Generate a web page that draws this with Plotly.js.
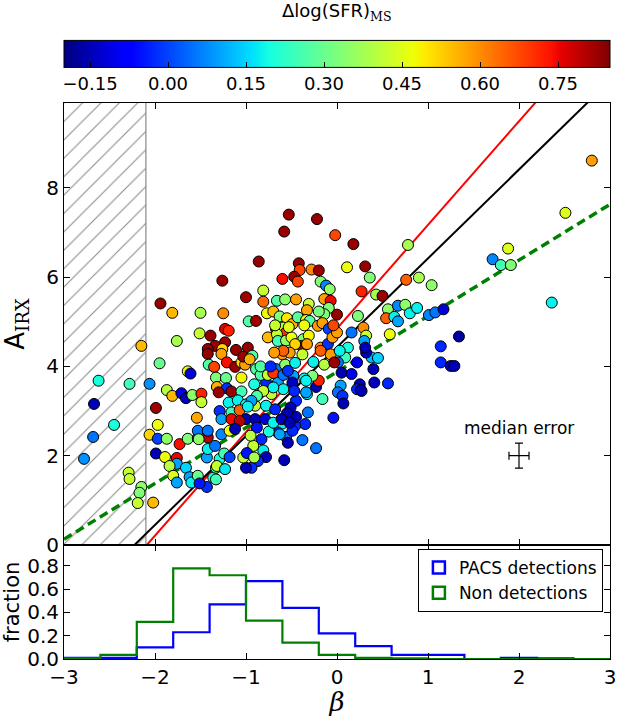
<!DOCTYPE html>
<html><head><meta charset="utf-8">
<script src="https://cdn.plot.ly/plotly-3.0.1.min.js"></script>
<style>html,body{margin:0;padding:0;background:#fff}#chart{width:617px;height:717px}</style>
</head><body><div id="chart"></div>
<script>
// ---- scatter data: UV slope beta, A_IRX, Delta log(SFR)_MS ----
const betaVals = [
 -2.15,-2.62,-2.28,-2.06,-2.67,-2.45,-2.68,-2.78,-2.29,-2.28,-2.15,-2.17,-2.19,-2.02,
 -2.06,-1.97,-1.97,-1.87,-1.99,-1.89,-1.76,-1.99,-1.95,-1.76,
 -1.87,-1.81,-1.71,-1.66,-1.59,-1.49,-1.49,-1.54,-1.64,-1.61,
 -1.73,-1.64,-1.53,-1.42,-1.76,-1.84,-1.80,-1.76,-1.66,-1.62,
 -1.60,-1.53,-1.43,-1.43,-1.42,-1.36,-1.33,-1.29,-1.53,
 -1.26,-1.94,-1.81,-1.50,-1.25,-1.00,-0.97,-1.51,-1.39,-1.23,-1.19,-1.23,-1.34,-1.42,-1.26,-1.11,-0.98,
 -0.53,-0.22,-0.58,-0.02,0.18,-0.86,-0.42,-0.41,-0.28,-0.20,
 0.11,-0.60,-0.47,-0.43,-0.18,-0.12,-0.08,0.27,-0.81,-0.81,
 -0.66,-0.57,-0.45,-0.31,-0.33,-0.14,-0.07,-0.09,0.00,-0.14,
 -0.20,-0.89,-0.77,-0.70,-0.63,-0.55,-0.49,-0.43,-0.34,-0.30,
 -0.21,-0.16,-0.09,-0.67,-0.59,-0.56,-0.76,-0.66,-0.65,-0.56,
 -0.50,-0.37,-0.31,-0.39,-0.46,-0.18,-0.10,-0.05,0.00,0.16,
 0.12,0.23,
 0.78,0.31,0.36,0.43,0.50,0.76,0.90,1.04,0.56,0.54,
 0.63,0.67,0.75,0.67,0.80,0.88,1.01,1.08,1.17,0.29,
 0.32,0.58,0.30,1.14,1.34,
 1.14,1.25,1.29,0.38,0.45,0.40,0.32,0.41,0.56,0.25,0.27,
 0.22,0.09,0.01,0.05,0.16,0.22,0.04,0.01,0.06,0.07,
 -0.16,-0.04,-0.23,-0.20,-0.27,-0.36,-0.33,-0.45,-0.32,-0.35,
 -0.46,-0.45,-0.51,-0.55,-0.60,-0.56,-0.54,-0.23,-0.58,-0.65,
 -0.75,-0.81,-0.78,-0.87,-0.83,-0.92,-0.94,-0.81,-0.75,-0.89,
 -0.67,-0.65,-0.78,-0.91,-0.86,-0.72,-0.90,-0.78,-0.68,-0.48,
 -0.60,-0.52,-0.38,
 -1.42,-1.27,-1.41,-1.35,-1.21,-1.12,-1.05,-1.01,-1.33,-1.22,
 -1.05,-1.32,-1.21,-1.30,-1.16,-1.05,-1.19,-1.09,-1.00,-1.29,
 -1.16,-1.07,-1.00,-1.27,-1.16,-1.07,-1.42,-1.52,-1.27,-1.18,
 -1.12,-1.34,-1.24,-1.32,-1.18,-1.23,-1.33,-1.51,-1.00,-1.03,
 -1.03,-0.93,-0.96,-0.59,-0.69,-0.68,-0.53,-0.36,-0.04,-0.33,
 -0.26,-0.14,-0.07,-0.03,-0.84,-0.76,-0.70,-0.84,-0.73,-0.59,
 -0.57,-0.46,-0.54,-0.49,-0.34,-0.34,-0.47,-0.59,-0.70,-0.81,
 -0.88,-0.94,-0.98,-0.90,-0.88,-0.79,-0.70,-0.61,-0.63,-0.49,
 -0.52,-0.38,-0.99,-0.91,-0.95,0.26,0.31,-0.18,0.03,
 2.80,2.51,1.88,1.71,1.80,1.91,2.36
];
const airxVals = [
 4.46,3.68,3.61,3.61,3.16,2.69,2.42,1.93,1.62,1.48,1.30,1.17,0.94,0.95,
 2.47,2.69,2.38,2.38,2.05,1.97,1.95,3.07,4.07,4.57,
 3.47,3.34,3.40,3.29,3.36,3.39,3.20,2.85,3.89,3.84,
 2.26,2.38,2.40,2.41,1.82,1.77,1.55,1.40,1.73,1.52,
 1.40,1.55,1.30,1.96,2.15,1.51,1.73,1.93,2.56,
 5.92,5.41,5.20,5.20,5.19,5.55,5.01,4.74,4.69,4.84,4.80,4.54,4.46,4.39,4.39,4.37,4.42,
 7.40,7.30,7.02,6.94,6.74,6.35,6.31,6.16,6.17,6.15,
 6.22,5.96,6.01,5.90,5.90,5.81,5.73,5.68,5.70,5.45,
 5.47,5.50,5.50,5.40,5.26,5.51,5.47,5.31,5.16,5.17,
 5.23,5.02,5.19,5.23,5.12,5.08,4.95,5.10,5.04,5.02,
 4.91,4.97,4.84,4.84,4.87,4.76,4.65,4.72,4.57,4.58,
 4.65,4.61,4.69,4.46,4.50,4.42,4.50,4.65,4.76,4.76,
 4.42,5.13,
 6.72,6.24,5.99,5.61,5.58,5.94,5.99,5.82,5.28,5.08,
 5.11,5.36,5.38,5.01,5.19,5.31,5.15,5.21,5.28,4.87,
 4.69,4.72,4.57,4.45,4.67,
 4.09,4.01,4.01,4.20,4.19,3.94,4.31,3.64,3.62,3.60,3.45,
 4.09,4.20,4.09,3.86,3.83,3.49,3.57,3.42,3.34,3.17,
 3.27,2.85,3.54,3.68,3.79,3.73,3.38,3.23,2.97,2.71,
 2.67,2.87,3.08,2.95,2.72,2.42,2.29,2.17,1.90,2.52,
 2.54,2.12,1.97,1.88,2.37,2.22,1.73,3.90,3.86,3.94,
 3.94,3.64,3.64,3.60,3.38,3.38,3.12,3.12,3.04,3.79,
 4.27,4.31,4.27,
 4.28,4.28,4.04,3.99,4.09,3.99,4.09,4.04,3.75,3.74,
 3.75,3.54,3.51,3.42,3.44,3.44,3.19,3.24,3.15,3.00,
 2.97,3.02,2.82,2.82,2.82,2.78,2.56,2.37,2.48,2.56,
 2.60,2.22,2.05,1.77,1.97,1.70,1.47,1.38,1.73,1.96,
 4.22,4.24,4.16,4.35,4.31,4.92,4.88,4.92,4.92,4.50,
 4.10,4.04,4.27,4.09,3.81,3.81,3.85,4.00,4.00,3.81,
 4.04,4.08,3.90,3.64,3.68,3.42,3.45,3.49,3.53,3.45,
 3.34,3.23,3.10,2.82,2.63,2.82,2.74,2.82,2.48,2.56,
 2.74,2.35,2.06,1.96,2.45,3.47,4.42,4.35,4.35,
 8.61,7.44,6.64,6.40,6.27,6.27,5.43
];
const dsfrVals = [
 0.55,0.20,0.25,0.08,-0.15,0.20,0.05,0.08,0.42,0.42,0.35,0.33,0.42,0.55,
 0.52,0.47,0.00,0.35,-0.15,0.47,0.75,0.82,0.30,0.38,
 0.40,0.55,-0.10,-0.15,0.35,0.72,0.42,0.57,0.48,-0.12,
 0.74,0.33,0.00,0.80,0.10,0.40,0.45,0.10,0.15,0.10,
 0.18,0.30,-0.02,0.10,0.18,0.20,0.25,0.20,0.05,
 0.83,0.83,0.55,0.38,0.60,0.82,0.27,0.42,0.83,0.76,0.72,0.83,0.83,0.83,0.52,0.83,0.83,
 0.83,0.83,0.83,0.68,0.83,0.83,0.83,0.68,0.60,0.83,
 0.47,0.74,0.83,0.68,0.33,0.07,0.35,0.72,0.42,0.64,
 0.27,0.35,0.58,0.42,0.57,0.58,0.75,0.33,0.83,0.33,
 0.32,0.82,0.48,0.55,0.33,0.50,0.56,0.28,0.48,0.27,
 0.58,0.58,0.00,0.83,0.42,0.70,0.55,0.42,0.25,0.35,
 0.47,0.33,0.48,0.83,0.52,0.60,-0.02,0.58,0.58,0.05,
 0.20,0.33,
 0.38,0.83,0.33,0.38,0.83,0.65,0.38,0.35,0.35,0.65,
 0.18,0.07,0.35,0.10,0.18,0.18,0.07,0.05,-0.12,0.60,
 0.42,0.47,0.10,-0.03,-0.17,
 -0.03,-0.15,-0.15,0.12,0.15,-0.15,-0.15,-0.15,-0.03,-0.15,-0.03,
 -0.10,0.25,0.05,-0.15,-0.10,-0.03,0.10,0.05,-0.02,-0.15,
 0.25,-0.05,-0.15,0.72,0.33,0.18,0.18,-0.03,0.05,-0.03,
 -0.03,-0.15,-0.15,-0.15,0.17,0.05,-0.15,0.05,-0.15,-0.03,
 0.20,0.18,-0.15,-0.02,-0.03,0.42,-0.02,0.42,0.72,0.27,
 0.05,0.10,-0.03,0.20,0.27,0.42,0.42,0.18,-0.03,0.10,
 0.58,0.58,0.42,
 0.83,0.58,0.27,0.68,0.74,0.83,0.52,0.58,0.33,0.30,
 0.48,0.56,-0.02,0.83,0.83,0.25,0.18,0.18,0.18,-0.02,
 0.25,0.65,-0.15,0.10,0.75,0.80,0.05,0.35,0.07,0.47,
 -0.15,0.05,0.25,0.42,0.00,0.17,0.25,-0.05,-0.15,0.42,
 0.83,0.27,0.56,0.65,0.58,0.42,0.45,0.47,0.68,0.58,
 0.18,0.40,0.58,0.83,0.27,0.42,0.70,0.27,-0.03,0.05,
 0.35,0.18,-0.02,-0.15,0.18,0.10,-0.03,0.18,0.18,0.42,
 0.27,0.10,0.18,-0.15,-0.05,-0.12,0.18,-0.15,0.10,-0.03,
 -0.15,0.05,-0.05,0.38,0.40,-0.15,-0.15,0.65,0.18,
 0.58,0.45,0.45,0.07,0.25,0.33,0.18
];

// ---- histogram (fraction per beta bin) ----
const histEdges = [-3.0,-2.6,-2.2,-1.8,-1.4,-1.0,-0.6,-0.2,0.2,0.6,1.0,1.4,1.8,2.2,2.6,3.0];
const pacsFrac  = [0.01,0.01,0.10,0.23,0.47,0.67,0.44,0.22,0.11,0.035,0.035,0.0,0.01,0.005,0.0];
const nonFrac   = [0.005,0.035,0.32,0.78,0.72,0.33,0.14,0.035,0.01,0.005,0.0,0.0,0.0,0.0,0.0];
const histNames = ['PACS detections','Non detections'];

// ---- relations A = a + b*beta ----
const relIntercepts = [4.85, 4.43, 3.88];
const relSlopes     = [2.32, 1.99, 1.25];
const relColors     = ['#ff0000','#000000','#008000'];

const hatchLimit = -2.1;
const medianErr = {beta:2.0, airx:2.0, dbeta:0.11, dairx:0.28};
const cbTicks = [-0.15,0.00,0.15,0.30,0.45,0.60,0.75];
const cRange = [-0.2, 0.85];
const xRange = [-3, 3];
const yRange = [0, 9.9];
const hyRange = [0, 0.98];

// matplotlib jet
const jet = [[0,'rgb(0,0,128)'],[0.11,'rgb(0,0,255)'],[0.125,'rgb(0,0,255)'],[0.34,'rgb(0,219,255)'],
 [0.35,'rgb(0,230,247)'],[0.375,'rgb(21,255,226)'],[0.64,'rgb(239,255,8)'],[0.65,'rgb(247,245,0)'],
 [0.66,'rgb(255,236,0)'],[0.89,'rgb(255,19,0)'],[0.91,'rgb(232,0,0)'],[1,'rgb(128,0,0)']];

const FONT = 'DejaVu Sans';
const PLOT_TOP = 103, PLOT_H = 717 - 103 - 58;
const pyToPaper = py => 1 + (PLOT_TOP - py) / PLOT_H;
const traces = [];

// hatched region
traces.push({x:[xRange[0],hatchLimit,hatchLimit,xRange[0],xRange[0]], y:[yRange[0],yRange[0],yRange[1],yRange[1],yRange[0]],
  mode:'lines', fill:'toself', fillcolor:'white', line:{width:0,color:'rgba(0,0,0,0)'},
  fillpattern:{shape:'/', fgcolor:'#8a8a8a', bgcolor:'white', size:13, solidity:0.08},
  showlegend:false, hoverinfo:'skip', xaxis:'x', yaxis:'y'});
traces.push({x:[hatchLimit,hatchLimit], y:yRange, mode:'lines', line:{color:'#888888', width:1.2},
  showlegend:false, hoverinfo:'skip', xaxis:'x', yaxis:'y'});

// relations
for (let i=0;i<relIntercepts.length;i++){
  const xs = xRange.slice();
  traces.push({x:xs, y:xs.map(b=>relIntercepts[i]+relSlopes[i]*b), mode:'lines',
    line:{color:relColors[i], width: i===2?3.5:2, dash: i===2?'9px,5px':'solid'},
    showlegend:false, hoverinfo:'skip', xaxis:'x', yaxis:'y'});
}

// scatter
traces.push({x:betaVals, y:airxVals, mode:'markers', type:'scatter', xaxis:'x', yaxis:'y', showlegend:false,
  marker:{size:11, color:dsfrVals, colorscale:jet, cmin:cRange[0], cmax:cRange[1], line:{color:'black', width:1},
    colorbar:{orientation:'h', x:0.5, xanchor:'center', xref:'paper', y:pyToPaper(100), yanchor:'bottom', yref:'paper',
      len:1, lenmode:'fraction', thickness:27, thicknessmode:'pixels', outlinewidth:1, outlinecolor:'black',
      xpad:0, ypad:0, tickvals:cbTicks, tickformat:'.2f', ticks:'inside', ticklen:5, tickcolor:'black',
      tickfont:{family:FONT, size:18, color:'black'}}}});

// median error
traces.push({x:[medianErr.beta], y:[medianErr.airx], mode:'markers', marker:{size:1, color:'black'},
  error_x:{type:'data', array:[medianErr.dbeta], color:'black', thickness:1.2, width:4},
  error_y:{type:'data', array:[medianErr.dairx], color:'black', thickness:1.2, width:4},
  showlegend:false, hoverinfo:'skip', xaxis:'x', yaxis:'y'});

// histograms
function stepXY(vals){
  const xs=[histEdges[0]], ys=[0];
  for(let i=0;i<vals.length;i++){ xs.push(histEdges[i]); ys.push(vals[i]); }
  xs.push(histEdges[histEdges.length-1]); ys.push(vals[vals.length-1]);
  xs.push(histEdges[histEdges.length-1]); ys.push(0);
  return {xs, ys};
}
const histColors = ['#0000ff','#008000'];
[pacsFrac, nonFrac].forEach((v,i)=>{
  const s = stepXY(v);
  traces.push({x:s.xs, y:s.ys, mode:'lines', line:{shape:'hv', color:histColors[i], width:2.2},
    showlegend:false, hoverinfo:'skip', xaxis:'x2', yaxis:'y2'});
});
// legend entries (outlined patches) - placed outside the visible range, used only for the legend
histNames.forEach((n,i)=>{
  traces.push({type:'bar', x:[xRange[1]+50], y:[0.5], name:n, marker:{color:'rgba(0,0,0,0)', line:{color:histColors[i], width:2.5}},
    showlegend:true, hoverinfo:'skip', xaxis:'x2', yaxis:'y2'});
});

const axBase = {showline:true, linecolor:'black', linewidth:1, mirror:'ticks', ticks:'inside', ticklen:6,
  tickcolor:'black', tickwidth:1, showgrid:false, zeroline:false, tickfont:{family:FONT, size:20, color:'black'}};

const H0 = 0.205;
const layout = {
  width:617, height:717, margin:{l:64, r:7, t:PLOT_TOP, b:58, autoexpand:false},
  paper_bgcolor:'white', plot_bgcolor:'white', font:{family:FONT, color:'black'},
  showlegend:true,
  xaxis: Object.assign({}, axBase, {domain:[0,1], range:xRange, anchor:'y', tickvals:[-2,-1,0,1,2], showticklabels:false}),
  yaxis: Object.assign({}, axBase, {domain:[H0,1], range:yRange, anchor:'x', tickvals:[0,2,4,6,8],
    title:{text:'A<sub><span style="font-family:\'DejaVu Serif\'">IRX</span></sub>', font:{family:FONT, size:26, color:'black'}, standoff:6}}),
  xaxis2: Object.assign({}, axBase, {domain:[0,1], range:xRange, anchor:'y2', tickvals:[-3,-2,-1,0,1,2,3],
    title:{text:'<i>β</i>', font:{family:'DejaVu Serif', size:26, color:'black'}, standoff:4}}),
  yaxis2: Object.assign({}, axBase, {domain:[0,H0], range:hyRange, anchor:'x2', tickvals:[0,0.2,0.4,0.6,0.8], tickformat:'.1f',
    title:{text:'fraction', font:{family:FONT, size:21, color:'black'}, standoff:4}}),
  legend:{x:0.987, xanchor:'right', y:pyToPaper(549), yanchor:'top', bordercolor:'black', borderwidth:1, bgcolor:'white',
    font:{family:FONT, size:17, color:'black'}, tracegroupgap:0, traceorder:'normal'},
  annotations:[
    {x:medianErr.beta, y:medianErr.airx+0.62, xref:'x', yref:'y', text:'median error', showarrow:false,
     font:{family:FONT, size:17, color:'black'}},
    {x:0.5, y:pyToPaper(12), xref:'paper', yref:'paper', yanchor:'middle', showarrow:false,
     text:'Δlog(SFR)<sub><span style="font-family:\'DejaVu Serif\'">MS</span></sub>', font:{family:FONT, size:18, color:'black'}}
  ]
};

Plotly.newPlot('chart', traces, layout, {displayModeBar:false, staticPlot:true});
</script></body></html>
